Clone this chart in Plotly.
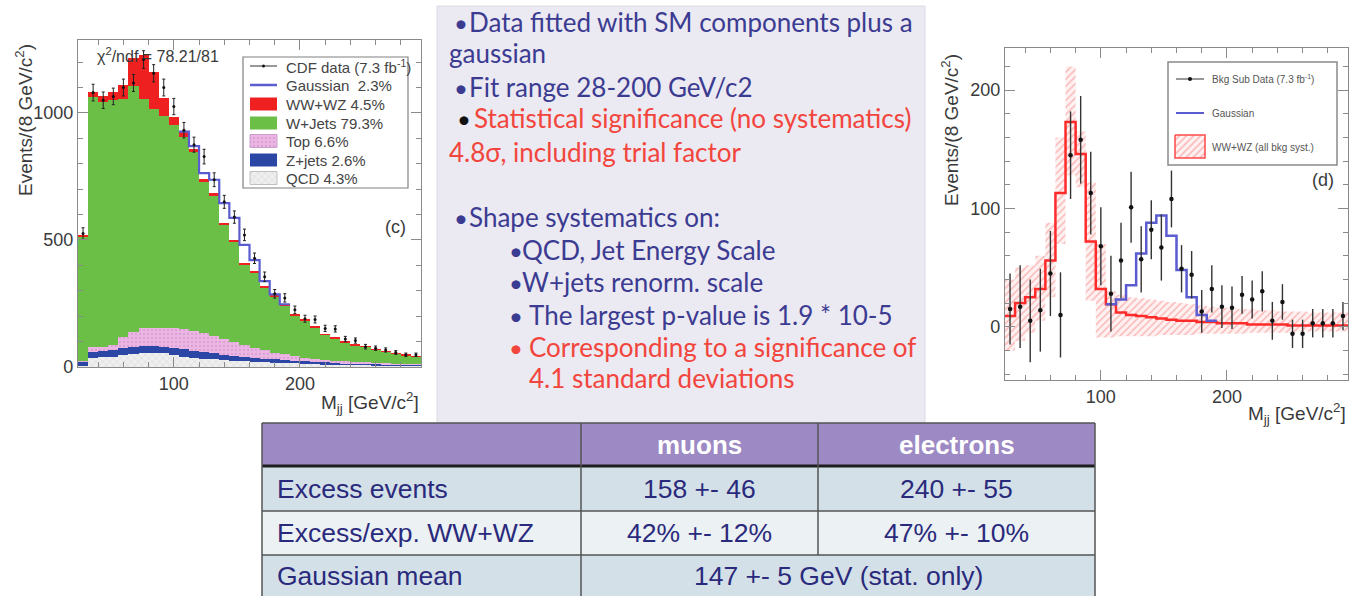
import numpy as np
import plotly.graph_objects as go

# ---------------- data ----------------
bin_lo, bin_w, nbins = 24, 8, 34
edges = [bin_lo + bin_w * i for i in range(nbins + 1)]
centers = [e + bin_w / 2 for e in edges[:-1]]

# panel (c): stacked expectations, events / 8 GeV
qcd = [3, 34, 38, 41, 48, 51, 54, 54, 54, 48, 41, 37, 33, 30, 27, 25, 22, 20, 18, 17,
       15, 14, 13, 12, 11, 10, 9, 8, 8, 7, 6, 6, 5, 5]
zjets = [17, 26, 26, 26, 25, 29, 29, 29, 26, 28, 29, 27, 26, 24, 21, 18, 17, 15, 15, 13,
         12, 11, 9, 8, 7, 7, 6, 6, 5, 5, 5, 4, 4, 4]
top = [2, 17, 16, 19, 46, 59, 69, 72, 75, 76, 78, 79, 74, 68, 62, 55, 47, 41, 34, 27,
       23, 18, 15, 12, 10, 8, 7, 6, 5, 4, 3, 3, 3, 2]
wjets = [489, 987, 963, 966, 935, 966, 903, 862, 831, 799, 759, 703, 595, 553, 447, 395,
         318, 297, 246, 219, 192, 161, 147, 125, 98, 88, 76, 66, 61, 53, 47, 41, 35, 30]
ww_wz = [9, 20, 25, 32, 56, 113, 173, 146, 72, 32, 19, 12, 10, 9, 8, 7, 6, 5, 5, 4,
         4, 3, 3, 3, 2, 2, 2, 2, 1, 1, 1, 1, 1, 1]
gauss = [0] * 11 + [11, 25, 53, 80, 87, 71, 43, 20, 6, 1] + [0] * 13
cdf_data = [525, 1080, 1050, 1065, 1100, 1118, 1210, 1156, 1100, 1025, 932, 875, 828, 737,
            650, 590, 520, 428, 355, 288, 272, 225, 190, 187, 152, 150, 110, 104, 80, 74,
            67, 57, 48, 48]

# panel (d): background-subtracted data and WW+WZ systematic band
bkgsub_data = [15, 17, 5, 14, 45, 10, 145, 158, 113, 68, 28, 56, 101, 57, 82, 67, 108, 49,
               44, 13, 32, 17, 16, 27, 23, 30, 5, 21, -6, -6, 3, 3, 3, 9]
bkgsub_err = [30, 35, 35, 35, 36, 36, 37, 37, 35, 33, 32, 32, 30, 28, 25, 28, 24, 20, 20,
              18, 20, 18, 18, 16, 16, 17, 16, 15, 12, 12, 12, 12, 12, 12]
band_hi = [40, 50, 52, 60, 88, 160, 220, 165, 122, 70, 30, 27, 25, 24, 23, 22, 21, 20, 19,
           18, 17, 16, 16, 15, 15, 14, 14, 13, 13, 13, 12, 12, 12, 12]
band_lo = [-20, -12, -5, 5, 25, 70, 128, 118, 22, -9, -9, -8, -8, -8, -8, -7, -7, -7, -7,
           -6, -6, -6, -6, -6, -5, -5, -5, -5, -5, -4, -4, -4, -4, -4]

legend_c = ["CDF data (7.3 fb<sup>-1</sup>)", "Gaussian  2.3%", "WW+WZ 4.5%", "W+Jets 79.3%",
            "Top 6.6%", "Z+jets 2.6%", "QCD 4.3%"]
legend_d = ["Bkg Sub Data (7.3 fb<sup>-1</sup>)", "Gaussian", "WW+WZ (all bkg syst.)"]

notes = [
    "Data fitted with SM components plus a",
    "gaussian",
    "Fit range 28-200 GeV/c2",
    "Statistical significance (no systematics)",
    "4.8σ, including trial factor",
    "Shape systematics on:",
    "QCD, Jet Energy Scale",
    "W+jets renorm. scale",
    "The largest p-value is 1.9 * 10-5",
    "Corresponding to a significance of",
    "4.1 standard deviations",
]

table_header = ["", "muons", "electrons"]
table_rows = [
    ["Excess events", "158 +- 46", "240 +- 55"],
    ["Excess/exp. WW+WZ", "42% +- 12%", "47% +- 10%"],
    ["Gaussian mean", "147 +- 5 GeV (stat. only)"],
]

# ---------------- styling ----------------
W = 1360
H_LAYOUT = 602      # layout grid used for all positions below
H_PAGE = 612        # rendered page height
NAVY = "#3b3b92"
RED_TXT = "#f2453d"
AX_TXT = "#3a3a3a"
FONT = "Liberation Sans"
NOTE_FONT = "Lato"

C_QCD, C_Z, C_TOP, C_W, C_WW = "#efefef", "#2c46a6", "#ecb6e4", "#6cbf46", "#ef2020"
C_GAUSS = "#5a5ccf"


def step_xy(vals):
    xs, ys = [], []
    for i, v in enumerate(vals):
        xs += [edges[i], edges[i + 1]]
        ys += [v, v]
    return xs, ys


fig = go.Figure()

# ---- panel (c): stacked histogram ----
stack = [
    ("QCD", qcd, dict(color=C_QCD, pattern=dict(shape="x", fgcolor="#a8a8a8", size=5, solidity=0.15))),
    ("Z+jets", zjets, dict(color=C_Z)),
    ("Top", top, dict(color=C_TOP, pattern=dict(shape=".", fgcolor="#c98ac2", size=4, solidity=0.25))),
    ("W+Jets", wjets, dict(color=C_W)),
    ("WW+WZ", ww_wz, dict(color=C_WW)),
]
for name, vals, mk in stack:
    mk = dict(mk, line=dict(width=0))
    fig.add_trace(go.Bar(x=centers, y=vals, width=bin_w, marker=mk, name=name,
                         xaxis="x", yaxis="y", showlegend=False))

total = np.array(qcd) + np.array(zjets) + np.array(top) + np.array(wjets) + np.array(ww_wz)
with_gauss = total + np.array(gauss)
g0, g1 = 10, 21
gx = edges[g0:g1 + 1]
gy = list(with_gauss[g0:g1]) + [with_gauss[g1 - 1]]
fig.add_trace(go.Scatter(x=gx, y=gy, mode="lines", line=dict(color=C_GAUSS, width=2.2, shape="hv"),
                         xaxis="x", yaxis="y", showlegend=False))

fig.add_trace(go.Scatter(
    x=centers, y=cdf_data, mode="markers", xaxis="x", yaxis="y", showlegend=False,
    marker=dict(color="#111", size=3),
    error_y=dict(type="data", array=list(np.sqrt(cdf_data)), color="#222", thickness=1, width=1.5)))

# ---- panel (d): background-subtracted ----
bx_hi, by_hi = step_xy(band_hi)
bx_lo, by_lo = step_xy(band_lo)
fig.add_trace(go.Scatter(
    x=bx_hi + bx_lo[::-1], y=by_hi + by_lo[::-1], mode="lines", fill="toself",
    fillcolor="rgba(0,0,0,0)", line=dict(width=0), xaxis="x2", yaxis="y2", showlegend=False,
    fillpattern=dict(shape="/", fgcolor="rgba(240,100,100,0.8)", bgcolor="rgba(255,220,220,0.4)",
                     size=5, solidity=0.3)))

fig.add_trace(go.Scatter(x=edges, y=ww_wz + [ww_wz[-1]], mode="lines",
                         line=dict(color="#ff2b2b", width=2.5, shape="hv"),
                         xaxis="x2", yaxis="y2", showlegend=False))

sig = np.array(ww_wz) + np.array(gauss)
sy = list(sig[g0:g1]) + [sig[g1 - 1]]
fig.add_trace(go.Scatter(x=gx, y=sy, mode="lines", line=dict(color=C_GAUSS, width=2.5, shape="hv"),
                         xaxis="x2", yaxis="y2", showlegend=False))

fig.add_trace(go.Scatter(
    x=centers, y=bkgsub_data, mode="markers", xaxis="x2", yaxis="y2", showlegend=False,
    marker=dict(color="#111", size=4.5),
    error_y=dict(type="data", array=bkgsub_err, color="#333", thickness=1.4, width=0)))

# ---- overlay axis in layout-grid units for legends, table and notes ----
def rect_trace(x0, y0, x1, y1, fill, pattern=None, line_color=None, lw=0):
    kw = dict(x=[x0, x1, x1, x0, x0], y=[y0, y0, y1, y1, y0], mode="lines", fill="toself",
              fillcolor=fill, line=dict(width=lw, color=line_color or fill),
              xaxis="x3", yaxis="y3", showlegend=False, hoverinfo="skip")
    if pattern:
        kw["fillpattern"] = pattern
    return go.Scatter(**kw)


shapes, annos = [], []


def rect(x0, y0, x1, y1, fill=None, line=None, lw=0, layer="below"):
    shapes.append(dict(type="rect", xref="x3", yref="y3", x0=x0, y0=y0, x1=x1, y1=y1,
                       fillcolor=fill or "rgba(0,0,0,0)",
                       line=dict(color=line or "rgba(0,0,0,0)", width=lw), layer=layer))


def hline(x0, x1, y, color, lw, layer="above"):
    shapes.append(dict(type="line", xref="x3", yref="y3", x0=x0, x1=x1, y0=y, y1=y,
                       line=dict(color=color, width=lw), layer=layer))


def vline(x, y0, y1, color, lw, layer="above"):
    shapes.append(dict(type="line", xref="x3", yref="y3", x0=x, x1=x, y0=y0, y1=y1,
                       line=dict(color=color, width=lw), layer=layer))


def text(x, y, s, size, color, family=FONT, xanchor="left", angle=0, yanchor="middle"):
    annos.append(dict(x=x, y=y, xref="x3", yref="y3", text=s, showarrow=False,
                      xanchor=xanchor, yanchor=yanchor, textangle=angle,
                      font=dict(family=family, size=size, color=color)))


# middle text panel background
rect(437, 6, 925, 423, fill="#ebe9f1", line="#dcdae4", lw=1)

# legend (c)
rect(243, 57, 408, 188, fill="white", line="#808080", lw=1.2)
lc_rows = [66, 85, 104, 123, 141, 160, 178]
fig.add_trace(go.Scatter(x=[250, 277], y=[lc_rows[0]] * 2, mode="lines", line=dict(color="#333", width=1),
                         xaxis="x3", yaxis="y3", showlegend=False, hoverinfo="skip"))
fig.add_trace(go.Scatter(x=[263.5], y=[lc_rows[0]], mode="markers", marker=dict(color="#111", size=3),
                         xaxis="x3", yaxis="y3", showlegend=False, hoverinfo="skip"))
fig.add_trace(go.Scatter(x=[250, 277], y=[lc_rows[1]] * 2, mode="lines", line=dict(color=C_GAUSS, width=2.5),
                         xaxis="x3", yaxis="y3", showlegend=False, hoverinfo="skip"))
swatches = [
    (C_WW, None),
    (C_W, None),
    (C_TOP, dict(shape=".", fgcolor="#c98ac2", bgcolor=C_TOP, size=4, solidity=0.25)),
    (C_Z, None),
    (C_QCD, dict(shape="x", fgcolor="#a8a8a8", bgcolor=C_QCD, size=5, solidity=0.15)),
]
for (col, pat), yc in zip(swatches, lc_rows[2:]):
    fig.add_trace(rect_trace(250, yc - 6.5, 277, yc + 6.5, col, pat,
                             line_color="#c8a0c8" if pat and col == C_TOP else ("#c0c0c0" if pat else col),
                             lw=1 if pat else 0))
for s, yc in zip(legend_c, lc_rows):
    text(284, yc, s, 15, "#444")

# legend (d)
rect(1168, 62, 1337, 165, fill="white", line="#8a8a8a", lw=1.5)
fig.add_trace(go.Scatter(x=[1176, 1204], y=[79, 79], mode="lines", line=dict(color="#333", width=1),
                         xaxis="x3", yaxis="y3", showlegend=False, hoverinfo="skip"))
fig.add_trace(go.Scatter(x=[1190], y=[79], mode="markers", marker=dict(color="#111", size=4),
                         xaxis="x3", yaxis="y3", showlegend=False, hoverinfo="skip"))
fig.add_trace(go.Scatter(x=[1176, 1204], y=[113, 113], mode="lines", line=dict(color=C_GAUSS, width=2),
                         xaxis="x3", yaxis="y3", showlegend=False, hoverinfo="skip"))
fig.add_trace(rect_trace(1175, 135, 1205, 158, "rgba(0,0,0,0)",
                         dict(shape="/", fgcolor="rgba(240,100,100,0.85)", bgcolor="rgba(255,220,220,0.4)",
                              size=5, solidity=0.3), line_color="#ff4a4a", lw=1.5))
for s, yc in zip(legend_d, [79, 113, 147]):
    text(1210, yc, s, 10, "#555")

# panel labels and axis titles
text(95, 55, "χ<sup>2</sup>/ndf = 78.21/81", 16, AX_TXT)
text(395, 227, "(c)", 18, AX_TXT, xanchor="center")
text(1323, 180, "(d)", 18, AX_TXT, xanchor="center")
text(24, 120, "Events/(8 GeV/c<sup>2</sup>)", 19, AX_TXT, xanchor="center", angle=-90)
text(950, 130, "Events/(8 GeV/c<sup>2</sup>)", 19, AX_TXT, xanchor="center", angle=-90)
text(421, 402, "M<sub>jj</sub> [GeV/c<sup>2</sup>]", 19, AX_TXT, xanchor="right")
text(1348, 413, "M<sub>jj</sub> [GeV/c<sup>2</sup>]", 19, AX_TXT, xanchor="right")

# bullet notes
note_pos = [  # (bullet x, text x, y, colour, bullet colour)
    (452, 467, 22, NAVY, NAVY),
    (None, 447, 53, NAVY, None),
    (452, 467, 87, NAVY, NAVY),
    (455, 472, 118, RED_TXT, "#111"),
    (None, 447, 152, RED_TXT, None),
    (452, 467, 217, NAVY, NAVY),
    (507, 520, 250, NAVY, NAVY),
    (507, 520, 282, NAVY, NAVY),
    (507, 527, 315, NAVY, NAVY),
    (507, 527, 347, RED_TXT, RED_TXT),
    (None, 527, 378, RED_TXT, None),
]
for s, (bx, tx, yc, col, bcol) in zip(notes, note_pos):
    if bx is not None:
        text(bx, yc, "•", 24, bcol, family=NOTE_FONT)
    text(tx, yc, s, 26, col, family=NOTE_FONT)

# results table
tx0, tc1, tc2, tx1 = 262, 581, 818, 1095
ty = [423, 466, 511, 555, 596]
row_fill = ["#9d89c3", "#d4e0e8", "#ecf1f4", "#d4e0e8"]
for i, f in enumerate(row_fill):
    rect(tx0, ty[i], tx1, ty[i + 1], fill=f)
for yv in ty[:1] + ty[2:4]:
    hline(tx0, tx1, yv, "#555", 1.5)
hline(tx0, tx1, ty[1], "#1e1e1e", 3)
vline(tx0, ty[0], ty[4], "#555", 1.5)
vline(tx1, ty[0], ty[4], "#555", 1.5)
vline(tc1, ty[0], ty[4], "#555", 1.5)
vline(tc2, ty[0], ty[3], "#555", 1.5)

TBL = "#2a2a7c"
for s, xc in zip(table_header[1:], [(tc1 + tc2) / 2, (tc2 + tx1) / 2]):
    text(xc, (ty[0] + ty[1]) / 2, "<b>" + s + "</b>", 26, "white", xanchor="center")
for r, row in enumerate(table_rows):
    yc = (ty[r + 1] + ty[r + 2]) / 2
    text(275, yc, row[0], 26.5, TBL)
    if len(row) == 3:
        text((tc1 + tc2) / 2, yc, row[1], 26.5, TBL, xanchor="center")
        text((tc2 + tx1) / 2, yc, row[2], 26.5, TBL, xanchor="center")
    else:
        text((tc1 + tx1) / 2, yc, row[1], 26.5, TBL, xanchor="center")

# ---------------- layout ----------------
def px(x):
    return x / W


def py(y):
    return 1 - y / H_LAYOUT


axis_common = dict(showline=True, mirror="ticks", linecolor="#8a8a8a", linewidth=1.2,
                   ticks="inside", tickcolor="#8a8a8a", showgrid=False, zeroline=False,
                   tickfont=dict(family=FONT, size=18, color=AX_TXT))

fig.update_layout(
    width=W, height=H_PAGE, margin=dict(l=0, r=0, t=0, b=0),
    paper_bgcolor="white", plot_bgcolor="rgba(0,0,0,0)",
    barmode="stack", bargap=0, showlegend=False,
    xaxis=dict(axis_common, domain=[px(78), px(421)], range=[24, 296], anchor="y",
               tickvals=[100, 200], ticklen=10, minor=dict(dtick=20, tick0=0, ticklen=5, ticks="inside")),
    yaxis=dict(axis_common, domain=[py(367), py(40)], range=[0, 1287], anchor="x",
               tickvals=[0, 500, 1000], ticklen=10, minor=dict(dtick=100, tick0=0, ticklen=5, ticks="inside")),
    xaxis2=dict(axis_common, domain=[px(1005), px(1348)], range=[24, 296], anchor="y2",
                tickvals=[100, 200], ticklen=10, minor=dict(dtick=20, tick0=0, ticklen=5, ticks="inside")),
    yaxis2=dict(axis_common, domain=[py(380), py(48)], range=[-45, 235.6], anchor="x2",
                tickvals=[0, 100, 200], ticklen=10, minor=dict(dtick=20, tick0=0, ticklen=5, ticks="inside")),
    xaxis3=dict(domain=[0, 1], range=[0, W], visible=False, anchor="y3", fixedrange=True),
    yaxis3=dict(domain=[0, 1], range=[H_LAYOUT, 0], visible=False, anchor="x3", fixedrange=True),
    shapes=shapes, annotations=annos,
)

fig.write_html("out.html")
